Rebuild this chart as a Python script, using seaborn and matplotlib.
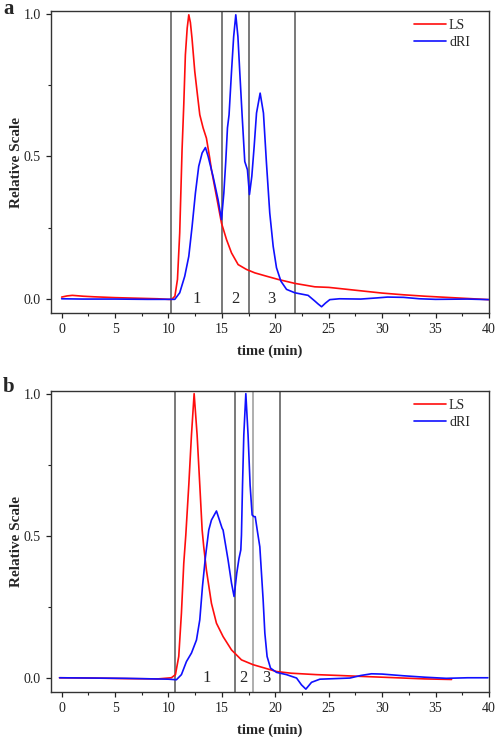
import matplotlib
matplotlib.use("Agg")
import matplotlib.pyplot as plt
from matplotlib.ticker import MultipleLocator
import seaborn as sns

# ---- panel a ----
a_ls_t = [0.0, 0.5, 1.0, 2.0, 3.0, 5.0, 7.0, 9.0, 10.0, 10.3, 10.6, 10.84, 11.05, 11.27,
          11.43, 11.58, 11.75, 11.9, 12.05, 12.2, 12.46, 12.71, 12.93, 13.24, 13.55, 13.86,
          14.02, 14.49, 14.96, 15.43, 15.9, 16.52, 17.3, 18.08, 19.2, 20.26, 21.83, 23.7,
          25.0, 26.0, 27.0, 28.0, 30.0, 32.0, 34.0, 36.0, 38.0, 40.0]
a_ls_v = [0.006, 0.010, 0.012, 0.009, 0.007, 0.004, 0.002, 0.000, -0.002, -0.002, 0.009, 0.068,
          0.231, 0.523, 0.681, 0.856, 0.95, 0.997, 0.97, 0.915, 0.798, 0.716, 0.646, 0.60,
          0.564, 0.494, 0.453, 0.36, 0.266, 0.208, 0.161, 0.12, 0.103, 0.091, 0.079, 0.068,
          0.054, 0.042, 0.040, 0.036, 0.032, 0.028, 0.020, 0.014, 0.009, 0.005, 0.001, -0.003]

a_ri_t = [0.0, 2.0, 5.0, 8.0, 10.0, 10.59, 11.05, 11.52, 11.9, 12.21, 12.52, 12.83, 13.15,
          13.46, 13.71, 14.17, 14.64, 14.96, 15.18, 15.36, 15.52, 15.67, 15.9, 16.1, 16.3,
          16.5, 16.67, 16.89, 17.14, 17.39, 17.58, 17.8, 18.02, 18.24, 18.58, 18.89, 19.17,
          19.48, 19.8, 20.11, 20.52, 21.05, 21.83, 23.07, 23.7, 24.0, 24.33, 24.7, 25.1,
          26.0, 28.0, 29.5, 30.5, 32.0, 33.5, 35.0, 38.0, 40.0]
a_ri_v = [0.0, -0.001, -0.001, -0.002, -0.002, -0.002, 0.021, 0.079, 0.149, 0.254, 0.371,
          0.465, 0.512, 0.531, 0.50, 0.43, 0.348, 0.278, 0.371, 0.482, 0.60, 0.646, 0.798,
          0.92, 0.997, 0.92, 0.798, 0.646, 0.482, 0.453, 0.366, 0.43, 0.535, 0.652, 0.722,
          0.652, 0.477, 0.301, 0.184, 0.109, 0.062, 0.033, 0.021, 0.012, -0.008, -0.018,
          -0.028, -0.015, -0.003, 0.0, -0.001, 0.003, 0.006, 0.005, 0.0, -0.002, -0.001, -0.003]

a_cuts = [10.2, 14.97, 17.58, 21.83]
a_cut_colors = ["#555555", "#555555", "#555555", "#555555"]
a_zone_x = [12.6, 16.3, 19.6]

# ---- panel b ----
b_ls_t = [-0.2, 3.0, 6.0, 9.0, 10.27, 10.65, 10.96, 11.21, 11.43, 11.62, 11.9, 12.15, 12.4,
          12.68, 12.93, 13.15, 13.3, 13.55, 14.02, 14.49, 15.11, 15.9, 16.83, 17.92, 19.02,
          20.11, 21.5, 23.86, 26.0, 27.92, 30.0, 32.0, 34.0, 36.5]
b_ls_v = [0.0, -0.001, -0.003, -0.004, 0.0, 0.011, 0.075, 0.227, 0.403, 0.502, 0.678, 0.854,
          1.0, 0.854, 0.678, 0.52, 0.461, 0.379, 0.262, 0.192, 0.145, 0.098, 0.063, 0.046,
          0.034, 0.022, 0.016, 0.011, 0.008, 0.005, 0.002, -0.001, -0.004, -0.006]

b_ri_t = [-0.2, 3.0, 6.0, 10.0, 10.74, 11.21, 11.68, 12.15, 12.62, 12.93, 13.18, 13.46,
          13.77, 14.02, 14.49, 15.02, 15.11, 15.58, 15.9, 16.14, 16.39, 16.6, 16.77, 16.83,
          16.93, 17.05, 17.24, 17.45, 17.64, 17.83, 18.0, 18.12, 18.33, 18.55, 18.86, 19.02,
          19.23, 19.55, 20.11, 21.05, 21.99, 22.45, 22.86, 23.39, 24.17, 26.98, 28.0, 29.0,
          30.0, 32.0, 34.0, 36.0, 38.0, 39.9]
b_ri_v = [0.0, -0.001, -0.002, -0.005, -0.007, 0.011, 0.057, 0.087, 0.133, 0.204, 0.321,
          0.426, 0.52, 0.555, 0.587, 0.526, 0.52, 0.414, 0.333, 0.286, 0.368, 0.42, 0.45,
          0.502, 0.678, 0.854, 1.0, 0.854, 0.678, 0.573, 0.567, 0.567, 0.514, 0.461, 0.274,
          0.157, 0.075, 0.034, 0.019, 0.011, -0.001, -0.025, -0.04, -0.016, -0.005, -0.001,
          0.008, 0.014, 0.013, 0.007, 0.002, -0.002, 0.0, 0.0]

b_cuts = [10.65, 16.18, 17.92, 20.42]
b_cut_colors = ["#555555", "#555555", "#999999", "#555555"]
b_zone_x = [13.55, 17.05, 19.2]

zone_labels = ["1", "2", "3"]
ls_color = "#ff0d0d"
ri_color = "#1010ff"

sns.set_style("ticks")
plt.rcParams["font.family"] = ["Liberation Serif", "DejaVu Serif"]

fig = plt.figure(figsize=(4.96, 7.40), dpi=100)
ax_a = fig.add_axes([0.1028, 0.577, 0.883, 0.408])
ax_b = fig.add_axes([0.1028, 0.0649, 0.883, 0.407])

panels = [
    (ax_a, a_ls_t, a_ls_v, a_ri_t, a_ri_v, a_cuts, a_cut_colors, a_zone_x),
    (ax_b, b_ls_t, b_ls_v, b_ri_t, b_ri_v, b_cuts, b_cut_colors, b_zone_x),
]

for ax, ls_t, ls_v, ri_t, ri_v, cuts, cut_colors, zone_x in panels:
    for c, col in zip(cuts, cut_colors):
        ax.axvline(c, color=col, lw=1.1, zorder=1)
    sns.lineplot(x=ls_t, y=ls_v, color=ls_color, lw=1.2, ax=ax, label="LS", zorder=3)
    sns.lineplot(x=ri_t, y=ri_v, color=ri_color, lw=1.2, ax=ax, label="dRI", zorder=4)
    for zx, lab in zip(zone_x, zone_labels):
        ax.text(zx, 0.0, lab, ha="center", va="center", fontsize=12)

    ax.set_xlim(-1, 40)
    ax.set_ylim(-0.05, 1.01)
    ax.xaxis.set_major_locator(MultipleLocator(5))
    ax.xaxis.set_minor_locator(MultipleLocator(2.5))
    ax.yaxis.set_minor_locator(MultipleLocator(0.25))
    ax.set_yticks([0.0, 0.5, 1.0])
    ax.set_yticklabels(["0.0", "0.5", "1.0"])
    ax.tick_params(which="major", direction="out", length=3.5, width=0.9,
                   labelsize=10, colors="#222222", pad=4)
    ax.tick_params(which="minor", direction="out", length=2, width=0.8, colors="#222222")
    for s in ax.spines.values():
        s.set_visible(True)
        s.set_linewidth(1.0)
        s.set_color("#333333")
    ax.set_xlabel("time (min)", fontsize=10.5, fontweight="bold", labelpad=6)
    ax.set_ylabel("Relative Scale", fontsize=11, fontweight="bold", labelpad=0)
    ax.legend(loc="upper right", bbox_to_anchor=(0.985, 1.015), frameon=False,
              fontsize=10, handlelength=2.3, handletextpad=0.2, labelspacing=0.3)

fig.text(0.006, 1 - 14 / 740, "a", fontsize=15, fontweight="bold", va="baseline")
fig.text(0.006, 1 - 392 / 740, "b", fontsize=15, fontweight="bold", va="baseline")

fig.savefig("out.png", dpi=100)
